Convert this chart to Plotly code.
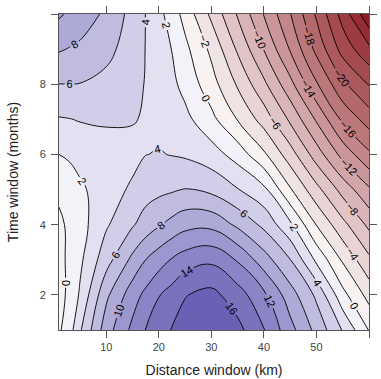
import plotly.graph_objects as go

# ---- data ----
distance_km = [1, 3, 5, 10, 15, 17.5, 20, 22.5, 25, 30, 35, 40, 45, 50, 55, 60]
time_months = [1, 2, 3, 4, 5, 6, 7, 8, 9, 10]

z_t1 = [-0.3, 1.15, 3.73, 9.1, 12.5, 14.05, 15.15, 16.1, 16.8, 17.4, 16.6, 14.1, 10.7, 7.4, 3.85, -0.1]
z_t2 = [-0.6, 0.4, 2.26, 7.57, 11.1, 12.5, 13.9, 14.8, 15.9, 16.6, 14.93, 12.4, 8.9, 5.6, 0.63, -2.73]
z_t3 = [-0.7, 0.5, 1.6, 5.2, 8.5, 10.0, 11.1, 12.15, 12.95, 13.6, 11.8, 8.9, 6.05, 1.58, -2.28, -5.57]
z_t4 = [-0.4, 0.37, 1.2, 3.75, 5.8, 6.87, 7.8, 8.63, 9.35, 9.45, 7.6, 5.5, 2.4, -2.07, -5.4, -8.47]
z_t5 = [0.4, 0.9, 1.6, 3.2, 4.28, 5.18, 5.5, 5.76, 6.1, 5.5, 4.1, 2.5, -1.79, -5.36, -8.75, -11.7]
z_t6 = [2.0, 2.3, 2.8, 3.3, 3.5, 3.97, 4.1, 3.93, 3.73, 2.9, 1.17, -1.66, -5.08, -9.0, -12.67, -15.63]
z_t7 = [3.85, 3.95, 4.1, 4.2, 4.1, 3.85, 3.5, 3.1, 2.55, 0.56, -2.1, -4.85, -8.38, -12.26, -16.4, -18.92]
z_t8 = [5.98, 5.98, 5.95, 5.4, 4.6, 3.9, 3.2, 2.45, 1.38, -1.19, -4.25, -7.57, -11.38, -15.77, -19.6, -22.13]
z_t9 = [8.2, 7.9, 7.6, 6.6, 5.0, 3.95, 2.95, 1.95, 0.51, -2.46, -6.3, -10.08, -14.17, -18.55, -22.77, -25.54]
z_t10 = [10.3, 9.7, 9.2, 7.6, 5.3, 3.97, 2.6, 1.03, -0.7, -4.45, -8.2, -12.1, -15.9, -20.3, -24.8, -29.6]

z_grid = [z_t1, z_t2, z_t3, z_t4, z_t5, z_t6, z_t7, z_t8, z_t9, z_t10]

x_tickvals = [10, 20, 30, 40, 50, 60]
x_ticktext = ["10", "20", "30", "40", "50", ""]
y_tickvals = [2, 4, 6, 8, 10]
y_ticktext = ["2", "4", "6", "8", ""]

level_start, level_end, level_step = -30, 18, 2

# colour anchors (value -> colour), placed on plotly's fill colour domain
anchor_values = [-31, -29, -1, 1, 17, 19]
anchor_colors = ["#88151B", "#8E1C22", "#F8F2F2", "#F3F2F9", "#6861B6", "#635BB3"]
dom_lo = level_start - level_step / 2
dom_hi = level_end + level_step / 2
colorscale = [[(v - dom_lo) / (dom_hi - dom_lo), c] for v, c in zip(anchor_values, anchor_colors)]

font_family = "Liberation Sans, Arial, sans-serif"

fig = go.Figure(
    go.Contour(
        x=distance_km,
        y=time_months,
        z=z_grid,
        contours=dict(
            start=level_start,
            end=level_end,
            size=level_step,
            coloring="fill",
            showlabels=True,
            labelfont=dict(size=11, color="black", family=font_family),
        ),
        line=dict(color="black", width=0.9, smoothing=1.2),
        colorscale=colorscale,
        showscale=False,
        hoverinfo="skip",
    )
)

axis_common = dict(
    showgrid=False,
    zeroline=False,
    showline=True,
    linecolor="#555555",
    linewidth=1,
    mirror="ticks",
    ticks="outside",
    ticklen=7,
    tickwidth=1,
    tickcolor="#555555",
    tickfont=dict(size=11, color="#444444", family=font_family),
)

fig.update_layout(
    width=381,
    height=379,
    margin=dict(l=59, r=4, t=14, b=48, pad=0),
    paper_bgcolor="white",
    plot_bgcolor="white",
    font=dict(family=font_family),
    xaxis=dict(
        range=[1, 60],
        tickvals=x_tickvals,
        ticktext=x_ticktext,
        title=dict(text="Distance window (km)", font=dict(size=14, color="#222222"), standoff=12),
        **axis_common,
    ),
    yaxis=dict(
        range=[1, 10],
        tickvals=y_tickvals,
        ticktext=y_ticktext,
        ticklabelstandoff=3,
        title=dict(text="Time window (months)", font=dict(size=14, color="#222222"), standoff=17),
        **axis_common,
    ),
)

fig.write_html("out.html")
